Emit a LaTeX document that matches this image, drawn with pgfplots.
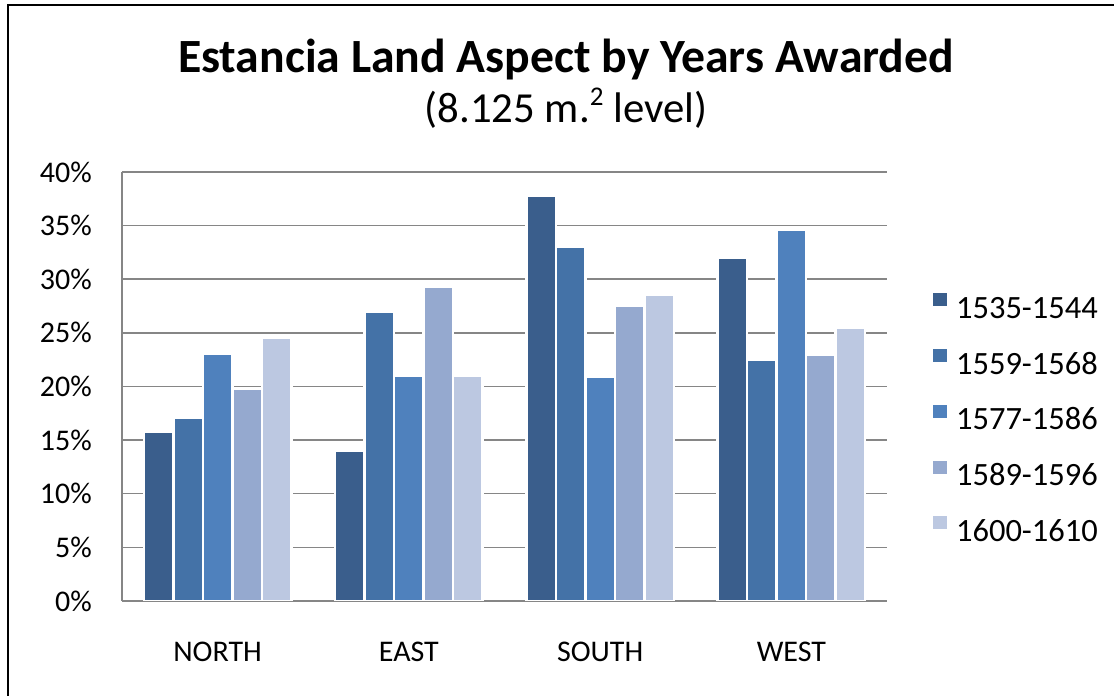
\documentclass[border=0pt]{standalone}
\usepackage{pgfplots}
\pgfplotsset{compat=1.18}
\usepackage{fontspec}
\setmainfont{Carlito}

\definecolor{cA}{HTML}{3A5E8C}
\definecolor{cB}{HTML}{4472A7}
\definecolor{cC}{HTML}{4F81BD}
\definecolor{cD}{HTML}{95A9CF}
\definecolor{cE}{HTML}{BCC8E1}
\definecolor{gridgray}{HTML}{868686}

\begin{document}
\begin{tikzpicture}
\path[use as bounding box] (0,0) rectangle (1114pt,696pt);
\draw[line width=2pt] (8pt,0) -- (8pt,691pt) -- (1114pt,691pt);
\node[anchor=base, font=\fontsize{47.7}{52}\selectfont\bfseries] at (566pt,623pt) {Estancia Land Aspect by Years Awarded};
\node[anchor=base, font=\fontsize{42.8}{48}\selectfont] at (566pt,573pt) {(8.125 m.\raisebox{0.42em}{\fontsize{27}{30}\selectfont 2} level)};
\begin{axis}[
  at={(122pt,95pt)}, anchor=south west,
  scale only axis, width=765pt, height=429pt,
  ybar=0pt, bar width=29.5pt,
  xmin=-0.5, xmax=3.5, ymin=0, ymax=40,
  xtick={0,1,2,3}, xticklabels={NORTH,EAST,SOUTH,WEST},
  ytick={0,5,...,40},
  yticklabel={\pgfmathprintnumber{\tick}\%},
  /pgf/number format/assume math mode=true,
  major tick length=0pt,
  axis x line*=bottom, axis y line*=left,
  axis line style={draw=gridgray, line width=1.5pt, -},
  ymajorgrids, grid style={gridgray, line width=1.5pt},
  ticklabel style={font=\fontsize{30}{34}\selectfont},
  xticklabel style={anchor=base, yshift=-60pt},
  yticklabel style={anchor=east, inner sep=0pt, xshift=-30pt},
  legend style={draw=none, fill=none, inner sep=0pt, outer sep=0pt,
    at={(axis description cs:1.0575,0.723)}, anchor=north west,
    font=\fontsize{32.5}{36}\selectfont,
    nodes={inner sep=0pt, text height=20pt, text depth=0pt},
    row sep=28.2pt, column sep=7pt},
  legend cell align=left,
  legend image code/.code={\fill[#1] (0pt,0.7pt) rectangle (15.6pt,16.3pt);},
  every axis plot/.append style={draw=white, line width=2.5pt},
]
\addplot[fill=cA] coordinates {(0,15.8) (1,14.0) (2,37.8) (3,32.0)};
\addplot[fill=cB] coordinates {(0,17.1) (1,27.0) (2,33.0) (3,22.5)};
\addplot[fill=cC] coordinates {(0,23.1) (1,21.0) (2,20.9) (3,34.6)};
\addplot[fill=cD] coordinates {(0,19.8) (1,29.3) (2,27.5) (3,23.0)};
\addplot[fill=cE] coordinates {(0,24.5) (1,21.0) (2,28.6) (3,25.5)};
\legend{1535-1544,1559-1568,1577-1586,1589-1596,1600-1610}
\end{axis}
\end{tikzpicture}
\end{document}
